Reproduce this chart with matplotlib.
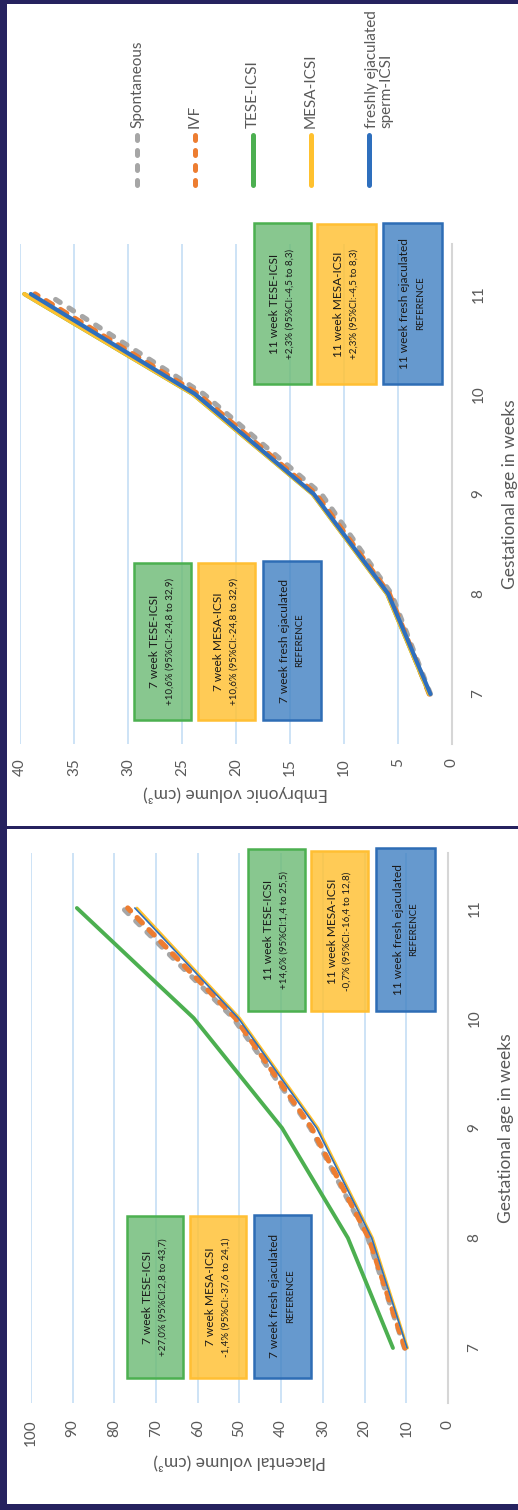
import matplotlib
matplotlib.use("Agg")
import matplotlib.pyplot as plt
from matplotlib.patches import Rectangle
from matplotlib.lines import Line2D

plt.rcParams['font.family'] = ['Lato', 'DejaVu Sans']

# ---------------- data ----------------
weeks = [7, 8, 9, 10, 11]
week_labels = ["7", "8", "9", "10", "11"]

emb_spontaneous = [2.0, 5.6, 12.1, 23.0, 37.5]
emb_ivf = [2.1, 5.8, 12.6, 23.5, 38.6]
emb_tese = [2.1, 6.0, 12.9, 24.0, 39.6]
emb_mesa = [2.1, 6.0, 12.9, 24.0, 39.6]
emb_fresh = [2.0, 5.9, 12.8, 23.8, 39.0]
emb_ticks = [0, 5, 10, 15, 20, 25, 30, 35, 40]

pla_spontaneous = [10.4, 19.2, 33.0, 51.5, 78.0]
pla_ivf = [10.3, 19.0, 32.7, 51.0, 76.8]
pla_tese = [13.2, 24.0, 39.8, 61.0, 89.0]
pla_mesa = [9.7, 18.1, 31.2, 50.0, 74.6]
pla_fresh = [9.8, 18.3, 31.5, 50.3, 75.1]
pla_ticks = [0, 10, 20, 30, 40, 50, 60, 70, 80, 90, 100]

series_names = ["Spontaneous", "IVF", "TESE-ICSI", "MESA-ICSI",
                "freshly ejaculated\nsperm-ICSI"]

emb_notes = [
    ("11 week TESE-ICSI", "+2,3% (95%CI:-4,5 to 8,3)"),
    ("11 week MESA-ICSI", "+2,3% (95%CI:-4,5 to 8,3)"),
    ("11 week fresh ejaculated", "REFERENCE"),
    ("7 week TESE-ICSI", "+10,6% (95%CI:-24,8 to 32,9)"),
    ("7 week MESA-ICSI", "+10,6% (95%CI:-24,8 to 32,9)"),
    ("7 week fresh ejaculated", "REFERENCE"),
]
pla_notes = [
    ("11 week TESE-ICSI", "+14,6% (95%CI:1,4 to 25,5)"),
    ("11 week MESA-ICSI", "-0,7% (95%CI:-16,4 to 12,8)"),
    ("11 week fresh ejaculated", "REFERENCE"),
    ("7 week TESE-ICSI", "+27,0% (95%CI:2,8 to 43,7)"),
    ("7 week MESA-ICSI", "-1,4% (95%CI:-37,6 to 24,1)"),
    ("7 week fresh ejaculated", "REFERENCE"),
]

# ---------------- styles ----------------
W, H = 518, 1510
C_GRAY = "#a6a6a6"
C_ORANGE = "#ed7d31"
C_GREEN = "#4caf50"
C_YELLOW = "#ffc12e"
C_BLUE = "#2e6fbd"
NAVY = "#26225f"
TXT = "#595959"
GRID = "#c5def5"

box_styles = [
    ((0.42, 0.73, 0.45, 0.80), "#4cb050"),
    ((1.00, 0.76, 0.22, 0.85), "#ffbf33"),
    ((0.25, 0.50, 0.76, 0.80), "#2e6db5"),
]

fig = plt.figure(figsize=(W / 100, H / 100), dpi=100)


def rect(x0, y0, x1, y1):
    return [x0 / W, 1 - y1 / H, (x1 - x0) / W, (y1 - y0) / H]


def style_axis(ax, xmax, ticks, xlabel, xpad, ypad, xlpad, ylpad):
    ax.set_xlim(xmax, 0)
    ax.set_ylim(6.5, 11.5)
    ax.set_xticks(ticks)
    ax.set_xticklabels([str(t) for t in ticks], rotation=90)
    ax.set_yticks(weeks)
    ax.set_yticklabels(week_labels, rotation=90, va='center')
    ax.yaxis.tick_right()
    ax.tick_params(axis='x', length=0, pad=xpad, labelsize=11, labelcolor=TXT)
    ax.tick_params(axis='y', length=0, pad=ypad, labelsize=11, labelcolor=TXT)
    for s in ['top', 'left', 'bottom']:
        ax.spines[s].set_visible(False)
    ax.spines['right'].set_color('#d6d6d6')
    ax.spines['right'].set_linewidth(1.5)
    ax.grid(axis='x', color=GRID, lw=1.2)
    ax.set_axisbelow(True)
    ax.set_xlabel(xlabel, rotation=180, fontsize=12.5, color=TXT, labelpad=xlpad)
    ax.yaxis.set_label_position('right')
    ax.set_ylabel("Gestational age in weeks", rotation=90, fontsize=12.5,
                  color=TXT, labelpad=ylpad)


def plot_series(ax, sp, ivf, tese, mesa, fresh, lw_dash, lw_green, lw_yellow, lw_blue):
    ax.plot(sp, weeks, color=C_GRAY, lw=lw_dash, dashes=(1.0, 2.0),
            dash_capstyle='round', zorder=2)
    ax.plot(ivf, weeks, color=C_ORANGE, lw=lw_dash, dashes=(1.4, 1.8),
            dash_capstyle='round', zorder=3)
    ax.plot(tese, weeks, color=C_GREEN, lw=lw_green, zorder=4,
            solid_capstyle='round')
    ax.plot(mesa, weeks, color=C_YELLOW, lw=lw_yellow, zorder=5,
            solid_capstyle='round')
    ax.plot(fresh, weeks, color=C_BLUE, lw=lw_blue, zorder=6,
            solid_capstyle='round')


def note_box(x0, y0, x1, y1, k, l1, l2):
    fc, ec = box_styles[k]
    fig.add_artist(Rectangle((x0 / W, 1 - y1 / H), (x1 - x0) / W, (y1 - y0) / H,
                             transform=fig.transFigure, facecolor=fc,
                             edgecolor=ec, lw=1.8, zorder=5))
    cx, cy = (x0 + x1) / 2, (y0 + y1) / 2
    fig.text((cx - 7.5) / W, 1 - cy / H, l1, rotation=90, ha='center',
             va='center', fontsize=8.6, color="#1a1a1a", zorder=6)
    fig.text((cx + 8) / W, 1 - cy / H, l2, rotation=90, ha='center',
             va='center', fontsize=7.0, color="#1a1a1a", zorder=6)


# ---------------- top panel: embryonic volume ----------------
ax1 = fig.add_axes(rect(20, 244, 452, 744))
style_axis(ax1, 40, emb_ticks, "Embryonic volume (cm³)", 10, 14, 7, 12)
plot_series(ax1, emb_spontaneous, emb_ivf, emb_tese, emb_mesa, emb_fresh,
            3.8, 3.0, 3.0, 3.0)

emb_boxes = [(254, 223, 311, 384), (317, 224, 376, 384), (383, 223, 442, 384),
             (134, 563, 191, 720), (198, 563, 255, 720), (263, 561, 321, 720)]
for i, (b, (l1, l2)) in enumerate(zip(emb_boxes, emb_notes)):
    note_box(*b, i % 3, l1, l2)

# legend (rotated, top of the upper panel)
leg_x = [137, 195, 253, 311, 369]
leg_colors = [C_GRAY, C_ORANGE, C_GREEN, C_YELLOW, C_BLUE]
for i, (name, col, lx) in enumerate(zip(series_names, leg_colors, leg_x)):
    kw = dict(color=col, lw=3.6, transform=fig.transFigure, zorder=5)
    if i < 2:
        kw.update(dashes=(1.0, 2.0), dash_capstyle='round')
    else:
        kw.update(solid_capstyle='round')
    fig.add_artist(Line2D([lx / W, lx / W], [1 - 185 / H, 1 - 135 / H], **kw))
    tx = lx if i < 4 else lx + 10
    fig.text(tx / W, 1 - 128 / H, name, rotation=90, ha='center', va='bottom',
             multialignment='left', fontsize=11, color=TXT, linespacing=1.0)

# ---------------- bottom panel: placental volume ----------------
ax2 = fig.add_axes(rect(31, 853, 448, 1403))
style_axis(ax2, 100, pla_ticks, "Placental volume (cm³)", 12, 14, 5, 12)
plot_series(ax2, pla_spontaneous, pla_ivf, pla_tese, pla_mesa, pla_fresh,
            3.8, 2.8, 2.0, 1.2)

pla_boxes = [(248, 849, 305, 1011), (311, 851, 368, 1011), (376, 848, 435, 1011),
             (127, 1216, 183, 1378), (190, 1216, 246, 1378), (254, 1215, 311, 1378)]
for i, (b, (l1, l2)) in enumerate(zip(pla_boxes, pla_notes)):
    note_box(*b, i % 3, l1, l2)

# ---------------- navy frame ----------------
for (x0, y0, x1, y1) in [(0, 0, 7, H), (0, 0, W, 4), (0, 826, W, 829),
                         (0, 1504, W, H)]:
    fig.add_artist(Rectangle((x0 / W, 1 - y1 / H), (x1 - x0) / W, (y1 - y0) / H,
                             transform=fig.transFigure, facecolor=NAVY,
                             edgecolor='none', zorder=10))

fig.savefig("out.png", dpi=100)
